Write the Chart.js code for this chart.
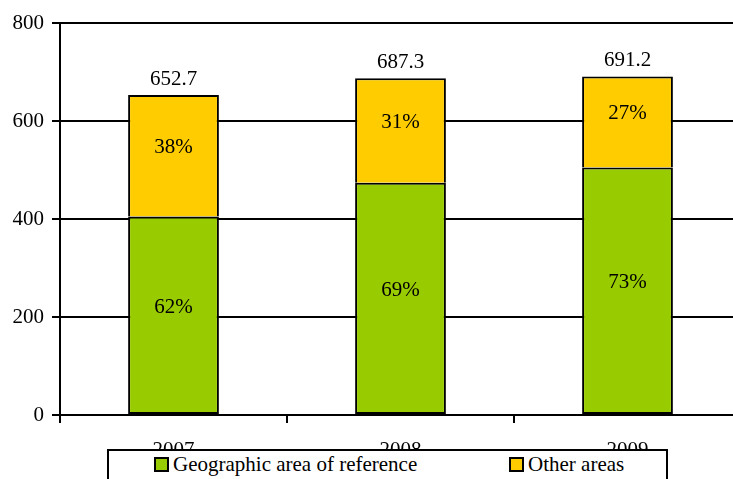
<!DOCTYPE html>
<html>
<head>
<meta charset="utf-8">
<script src="https://cdn.jsdelivr.net/npm/chart.js@4/dist/chart.umd.min.js"></script>
<style>
  html, body { margin: 0; padding: 0; background: #fff; overflow: hidden; }
  body { font-family: 'Liberation Serif', serif; }
  #wrap { position: relative; width: 733px; height: 479px; overflow: hidden; }
  #c { position: absolute; left: 0; top: 0; }
  #legend { position: absolute; left: 107px; top: 449px; width: 557px; height: 60px; border: 2px solid #000; background: #fff; font-family: 'Liberation Serif', serif; font-size: 21px; color: #000; }
  .item { position: absolute; top: 2px; white-space: nowrap; line-height: 23px; }
  .sw { display: inline-block; width: 11px; height: 11px; border: 2px solid #000; vertical-align: -1px; margin-right: 4px; }
</style>
</head>
<body>
<div id="wrap">
  <canvas id="c" width="745" height="479"></canvas>
  <div id="legend"></div>
</div>
<script>
const categories = ['2007', '2008', '2009'];
const seriesNames = ['Geographic area of reference', 'Other areas'];
const geographicValues = [405, 474, 505];
const otherValues = [248, 213, 186];
const totalLabels = ['652.7', '687.3', '691.2'];
const geographicPct = ['62%', '69%', '73%'];
const otherPct = ['38%', '31%', '27%'];
const colors = ['#99CC00', '#FFCC00'];
const FONT = "'Liberation Serif', serif";
const FS = 21;

Chart.defaults.font.family = FONT;
Chart.defaults.font.size = FS;
Chart.defaults.color = '#000';

const legendEl = document.getElementById('legend');
const legendPos = [45, 400];
seriesNames.forEach((n, i) => {
  const d = document.createElement('div');
  d.className = 'item';
  d.style.left = legendPos[i] + 'px';
  const sw = document.createElement('span');
  sw.className = 'sw';
  sw.style.background = colors[i];
  d.appendChild(sw);
  d.appendChild(document.createTextNode(n));
  legendEl.appendChild(d);
});

const labelPlugin = {
  id: 'labels',
  afterDatasetsDraw(chart) {
    const ctx = chart.ctx;
    ctx.save();
    ctx.fillStyle = '#000';
    ctx.font = FS + 'px ' + FONT;
    ctx.textAlign = 'center';
    ctx.textBaseline = 'middle';
    const pcts = [geographicPct, otherPct];
    chart.data.datasets.forEach((ds, i) => {
      const meta = chart.getDatasetMeta(i);
      meta.data.forEach((el, j) => {
        const mid = (el.y + el.base) / 2 - 8;
        ctx.fillText(pcts[i][j], el.x, mid);
      });
    });
    const topMeta = chart.getDatasetMeta(1);
    topMeta.data.forEach((el, j) => {
      ctx.fillText(totalLabels[j], el.x, el.y - 16);
    });
    ctx.restore();
  }
};

new Chart(document.getElementById('c'), {
  type: 'bar',
  data: {
    labels: categories,
    datasets: [
      { label: seriesNames[0], data: geographicValues, backgroundColor: colors[0], borderColor: '#000', borderWidth: 2, borderSkipped: false },
      { label: seriesNames[1], data: otherValues, backgroundColor: colors[1], borderColor: '#000', borderWidth: 2, borderSkipped: 'start' }
    ]
  },
  options: {
    responsive: false,
    animation: false,
    layout: { padding: { top: 23, right: 4, left: 0, bottom: 0 } },
    datasets: { bar: { barPercentage: 0.4, categoryPercentage: 1.0 } },
    plugins: { legend: { display: false }, tooltip: { enabled: false } },
    scales: {
      x: {
        stacked: true,
        offset: true,
        grid: { offset: true, drawOnChartArea: false, color: '#000', lineWidth: 2, tickLength: 8 },
        border: { color: '#000', width: 2 },
        ticks: { color: '#000', font: { family: FONT, size: FS }, padding: 15 },
        afterFit(s) { s.height = 64; }
      },
      y: {
        stacked: true,
        min: 0, max: 800,
        grid: { color: '#000', lineWidth: 2, tickLength: 8 },
        border: { color: '#000', width: 2 },
        ticks: { stepSize: 200, color: '#000', font: { family: FONT, size: FS }, padding: 8 },
        afterFit(s) { s.width = 60; }
      }
    }
  },
  plugins: [labelPlugin]
});
</script>
</body>
</html>
